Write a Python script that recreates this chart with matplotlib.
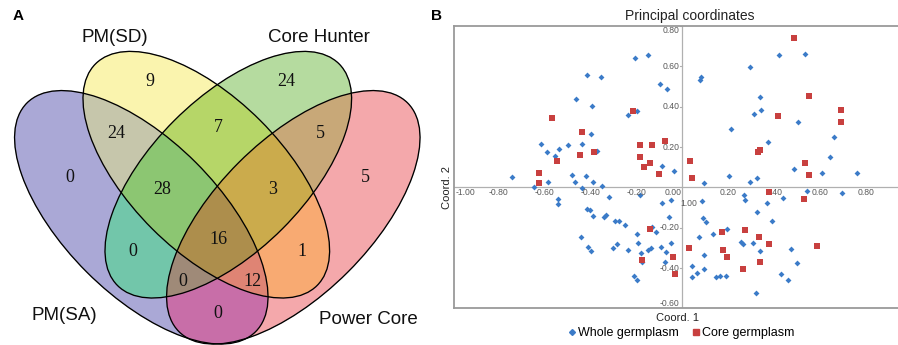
import numpy as np
import matplotlib
matplotlib.use("Agg")
import matplotlib.pyplot as plt
from matplotlib.patches import Ellipse
from matplotlib.lines import Line2D
from matplotlib.colors import to_rgba

# ---------------- data ----------------
set_names = ["PM(SA)", "PM(SD)", "Core Hunter", "Power Core"]
region_keys = ["A", "B", "C", "D", "AB", "BC", "CD", "AC", "BD", "AD",
               "ABC", "BCD", "ACD", "ABD", "ABCD"]
region_counts = [0, 9, 24, 5, 24, 7, 5, 0, 1, 0, 28, 3, 0, 12, 16]

whole_x = [-0.207, -0.148, -0.413, -0.354, -0.096, -0.067, -0.464, -0.391, -0.236, -0.199,
           -0.397, -0.613, -0.499, -0.438, -0.590, -0.536, -0.555, -0.372, -0.087, -0.035,
           -0.739, -0.480, -0.419, -0.583, -0.467, -0.388, -0.643, -0.351, -0.438, -0.539,
           -0.539, -0.319, -0.184, -0.090, -0.051, -0.416, -0.403, -0.390, -0.333, -0.339,
           -0.294, -0.275, -0.249, -0.059, -0.130, -0.116, -0.199, -0.442, -0.412, -0.397,
           -0.286, -0.300, -0.238, -0.194, -0.181, -0.151, -0.135, -0.091, -0.070, -0.051,
           -0.174, -0.077, -0.210, -0.199, 0.419, 0.535, 0.293, 0.080, 0.075, 0.336,
           0.313, 0.342, 0.504, 0.212, 0.372, 0.659, 0.643, 0.486, 0.607, 0.761,
           0.203, 0.325, 0.294, 0.093, 0.543, 0.696, 0.267, 0.274, 0.436, 0.087,
           0.368, 0.323, 0.388, 0.088, 0.101, 0.193, 0.132, 0.071, 0.255, 0.264,
           0.307, 0.336, 0.471, 0.093, 0.499, 0.043, 0.093, 0.062, 0.041, 0.146,
           0.164, 0.188, 0.429, 0.459, 0.320]
whole_y = [0.643, 0.656, 0.557, 0.547, 0.511, 0.489, 0.440, 0.402, 0.357, 0.377,
           0.266, 0.213, 0.208, 0.213, 0.174, 0.190, 0.155, 0.182, 0.106, 0.081,
           0.053, 0.063, 0.056, 0.028, 0.028, 0.028, 0.000, 0.008, -0.002, -0.056,
           -0.083, -0.046, -0.038, -0.076, -0.061, -0.106, -0.112, -0.142, -0.137, -0.145,
           -0.169, -0.169, -0.187, -0.147, -0.197, -0.223, -0.230, -0.245, -0.296, -0.317,
           -0.283, -0.299, -0.312, -0.278, -0.324, -0.311, -0.301, -0.294, -0.319, -0.278,
           -0.369, -0.372, -0.438, -0.460, 0.655, 0.663, 0.598, 0.549, 0.531, 0.446,
           0.364, 0.383, 0.322, 0.288, 0.223, 0.250, 0.152, 0.093, 0.069, 0.071,
           0.058, 0.046, 0.026, 0.020, -0.017, -0.026, -0.040, -0.063, -0.051, -0.068,
           -0.076, -0.122, -0.169, -0.154, -0.174, -0.207, -0.230, -0.246, -0.273, -0.281,
           -0.276, -0.317, -0.307, -0.337, -0.377, -0.390, -0.405, -0.426, -0.446, -0.446,
           -0.440, -0.440, -0.430, -0.458, -0.526]

core_x = [0.486, 0.551, 0.691, 0.688, 0.416, 0.339, 0.330, 0.535, 0.549, 0.033,
          0.043, 0.378, 0.530, -0.214, -0.565, -0.436, -0.186, -0.130, -0.075, -0.443,
          -0.384, -0.183, -0.545, -0.142, -0.167, -0.103, -0.623, -0.623, -0.141, -0.174,
          -0.042, -0.032, 0.029, 0.172, 0.272, 0.335, 0.377, 0.586, 0.177, 0.194,
          0.336, 0.264]
core_y = [0.742, 0.453, 0.383, 0.326, 0.355, 0.187, 0.177, 0.122, 0.060, 0.132,
          0.045, -0.023, -0.056, 0.379, 0.344, 0.273, 0.212, 0.208, 0.231, 0.162,
          0.174, 0.152, 0.132, 0.122, 0.101, 0.066, 0.073, 0.023, -0.205, -0.359,
          -0.347, -0.430, -0.301, -0.223, -0.213, -0.248, -0.283, -0.291, -0.309, -0.345,
          -0.372, -0.405]

x_ticks = [-1.0, -0.8, -0.6, -0.4, -0.2, 0.0, 0.2, 0.4, 0.6, 0.8]
y_ticks = [-0.6, -0.4, -0.2, 0.0, 0.2, 0.4, 0.6, 0.8]
series_labels = ["Whole germplasm", "Core germplasm"]

# ---------------- style / layout ----------------
SANS = ["Liberation Sans", "DejaVu Sans"]
SERIF = ["Liberation Serif", "DejaVu Serif"]
plt.rcParams["font.family"] = SANS

W, H = 898, 345
fig = plt.figure(figsize=(W / 100, H / 100), dpi=100)

# ---- Panel A: Venn diagram (pixel coordinate system) ----
axA = fig.add_axes([0, 0, 440 / W, 1])
axA.set_xlim(0, 440)
axA.set_ylim(345, 0)
axA.axis("off")

ellipse_geo = {  # cx, cy, semi-major, semi-minor, angle
    "A": (141.3, 217.3, 161.7, 77.3, 45),
    "B": (206.3, 174.7, 156.7, 76.5, 45),
    "C": (228.3, 174.7, 156.7, 76.5, -45),
    "D": (293.3, 217.3, 161.7, 77.3, -45),
}
region_colors = {
    "A": "#aaa8d6", "B": "#faf4ae", "C": "#b5dba0", "D": "#f5a8ab",
    "AB": "#c7c6ab", "BC": "#b6d668", "CD": "#c9a878", "AC": "#72c6aa",
    "BD": "#f8aa72", "AD": "#c86ea8", "ABC": "#8cc673", "BCD": "#cbab4c",
    "ACD": "#a08a78", "ABD": "#e08474", "ABCD": "#ad8e4c",
}
label_pos = {
    "A": (70, 178), "B": (150, 82), "C": (286, 82), "D": (365, 178),
    "AB": (116, 133), "BC": (218, 128), "CD": (320, 133),
    "ABC": (162, 190), "BCD": (273, 190), "ABCD": (218, 240),
    "AC": (133, 251), "BD": (302, 251), "ACD": (183, 281), "ABD": (252, 281),
    "AD": (218, 313),
}
set_label_pos = [(64, 316), (115, 37), (319, 38), (368, 320)]

ss = 3
xs = (np.arange(440 * ss) + 0.5) / ss
ys = (np.arange(345 * ss) + 0.5) / ss
X, Y = np.meshgrid(xs, ys)
masks = {}
for k, (cx, cy, a, b, ang) in ellipse_geo.items():
    t = np.deg2rad(ang)
    dx, dy = X - cx, Y - cy
    u = dx * np.cos(t) + dy * np.sin(t)
    v = -dx * np.sin(t) + dy * np.cos(t)
    masks[k] = (u / a) ** 2 + (v / b) ** 2 <= 1.0

img = np.zeros((345 * ss, 440 * ss, 4))
for key in region_keys:
    m = np.ones_like(X, dtype=bool)
    for k in "ABCD":
        m &= masks[k] if k in key else ~masks[k]
    img[m] = to_rgba(region_colors[key])
axA.imshow(img, extent=(0, 440, 345, 0), interpolation="antialiased", zorder=1)

for k, (cx, cy, a, b, ang) in ellipse_geo.items():
    axA.add_patch(Ellipse((cx, cy), 2 * a, 2 * b, angle=ang, fill=False,
                          ec="black", lw=0.95, zorder=3))

for key, cnt in zip(region_keys, region_counts):
    px, py = label_pos[key]
    axA.text(px, py, str(cnt), ha="center", va="center", fontsize=13,
             family=SERIF, color="#111111", zorder=4)

for name, (px, py) in zip(set_names, set_label_pos):
    axA.text(px, py, name, ha="center", va="center", fontsize=13.5,
             family=SANS, color="#111111", zorder=4)

fig.text(18 / W, 1 - 16 / H, "A", ha="center", va="center", fontsize=11,
         fontweight="bold")
fig.text(437 / W, 1 - 16 / H, "B", ha="center", va="center", fontsize=11,
         fontweight="bold")

# ---- Panel B: PCoA scatter ----
axB = fig.add_axes([454 / W, 37 / H, 444 / W, 282 / H])
axB.set_xlim(-0.993, 0.938)
axB.set_ylim(-0.598, 0.800)
axB.set_xticks([])
axB.set_yticks([])
for s in ["left", "top", "bottom"]:
    axB.spines[s].set_color("#9a9a9a")
    axB.spines[s].set_linewidth(1.3)
axB.spines["right"].set_visible(False)

axB.axhline(0, color="#b0b0b0", lw=0.9, zorder=1)
axB.axvline(0, color="#b0b0b0", lw=0.9, zorder=1)

blue = "#3b7bc8"
red = "#c8403f"
axB.scatter(whole_x, whole_y, marker="D", s=9, color=blue, lw=0, zorder=3)
axB.scatter(core_x, core_y, marker="s", s=13, color=red, lw=0, zorder=4)

tick_color = "#5a5a5a"
tfs = 6.2
for v in x_ticks:
    txt = f"{v:.2f}"
    if v == 0:
        axB.text(-0.003, -0.004, txt, ha="right", va="top", fontsize=tfs, color=tick_color)
    elif v <= -0.99:
        axB.text(-0.985, -0.004, txt, ha="left", va="top", fontsize=tfs, color=tick_color)
    else:
        axB.text(v, -0.004, txt, ha="center", va="top", fontsize=tfs, color=tick_color)
for v in y_ticks:
    if v == 0:
        continue
    va = "center"
    if v >= 0.79:
        va = "top"
    elif v <= -0.59:
        va = "bottom"
    axB.text(-0.012, v, f"{v:.2f}", ha="right", va=va, fontsize=tfs, color=tick_color)
    axB.plot([-0.01, 0], [v, v], color="#b0b0b0", lw=0.8, zorder=1)
axB.text(0.027, -0.081, "1.00", ha="center", va="center", fontsize=tfs, color=tick_color)

fig.text(690 / W, 1 - 16 / H, "Principal coordinates", ha="center", va="center",
         fontsize=10, color="#222222")
fig.text(678 / W, 1 - 318 / H, "Coord. 1", ha="center", va="center", fontsize=8,
         color="#222222")
fig.text(447 / W, 1 - 187 / H, "Coord. 2", ha="center", va="center", fontsize=8,
         rotation=90, color="#222222")

handles = [Line2D([], [], ls="none", marker="D", ms=3, color=blue),
           Line2D([], [], ls="none", marker="s", ms=4.5, color=red)]
fig.legend(handles, series_labels, loc="center", bbox_to_anchor=(681 / W, 1 - 333 / H),
           ncol=2, frameon=False, fontsize=9, handletextpad=0.15, columnspacing=1.0,
           handlelength=0.7, borderpad=0, borderaxespad=0)

fig.savefig("out.png", dpi=100)
